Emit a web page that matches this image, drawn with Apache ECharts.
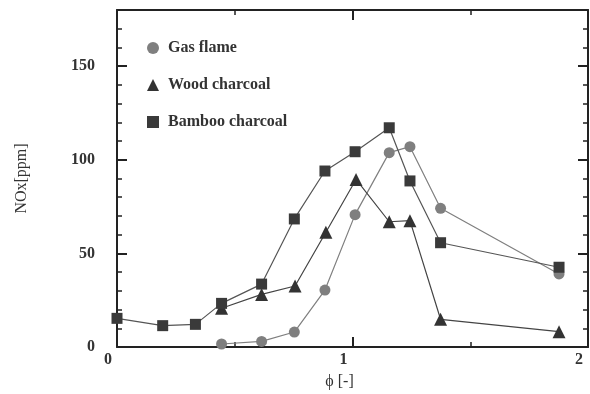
<!DOCTYPE html>
<html>
<head>
<meta charset="utf-8">
<script src="https://cdn.jsdelivr.net/npm/echarts@6/dist/echarts.min.js"></script>
<style>
    html, body { margin: 0; padding: 0; background: #fff; }
    #chart { width: 590px; height: 394px; }
</style>
</head>
<body>
<div id="chart"></div>
<script>
// 数据
let gasPhi = [0.444, 0.614, 0.753, 0.883, 1.011, 1.156, 1.244, 1.374, 1.877];
let gasNox = [1.6, 3, 8, 30.4, 70.7, 103.8, 107, 74.1, 39];
let woodPhi = [0.444, 0.614, 0.756, 0.887, 1.015, 1.156, 1.244, 1.374, 1.877];
let woodNox = [20.7, 28.1, 32.6, 61.3, 89.5, 66.9, 67.5, 14.8, 8.2];
let bambooPhi = [0.0, 0.194, 0.333, 0.444, 0.614, 0.753, 0.883, 1.011, 1.156, 1.244, 1.374, 1.877];
let bambooNox = [15.3, 11.4, 12.1, 23.3, 33.6, 68.4, 94, 104.3, 117.1, 88.7, 55.7, 42.6];
let names = ['Gas flame', 'Wood charcoal', 'Bamboo charcoal'];

function pairs(xs, ys) {
    return xs.map(function(x, i) { return [x, ys[i]]; });
}

window.addEventListener('load', function() {
    let myChart = echarts.init(document.getElementById('chart'));
    let font = 'Liberation Serif';
    let axisCommon = {
        axisLine: { show: true, onZero: false, lineStyle: { color: '#222', width: 2 } },
        splitLine: { show: false },
        minorSplitLine: { show: false },
        axisTick: { show: true, inside: true, length: 10, lineStyle: { color: '#222', width: 2 } }
    };
    let yMinor = { show: true, splitNumber: 5, length: 5, lineStyle: { color: '#222', width: 1.5 } };
    let xMinor = { show: true, splitNumber: 2, length: 5, lineStyle: { color: '#222', width: 1.5 } };

    let option = {
        animation: false,
        backgroundColor: '#fff',
        grid: { left: 117, right: 2, top: 10, bottom: 47, outerBoundsMode: 'none', containLabel: false },
        legend: {
            orient: 'vertical',
            left: 142,
            top: 35,
            itemGap: 21,
            itemWidth: 12,
            itemHeight: 12,
            textStyle: { fontFamily: font, fontSize: 16, fontWeight: 'bold', color: '#333', padding: [0, 0, 0, 4] },
            data: [
                { name: names[0], icon: 'circle', itemStyle: { color: '#7f7f7f' } },
                { name: names[1], icon: 'triangle', itemStyle: { color: '#333' } },
                { name: names[2], icon: 'rect', itemStyle: { color: '#3a3a3a' } }
            ]
        },
        xAxis: [
            Object.assign({
                type: 'value', min: 0, max: 2, interval: 1, position: 'bottom',
                name: 'ϕ [-]', nameLocation: 'middle', nameGap: 27,
                nameTextStyle: { fontFamily: font, fontSize: 16, color: '#333', padding: [0, 26, 0, 0] },
                axisLabel: { margin: 5, fontFamily: font, fontSize: 16, fontWeight: 'bold', color: '#333', padding: [0, 18, 0, 0] },
                minorTick: xMinor
            }, axisCommon),
            Object.assign({
                type: 'value', min: 0, max: 2, interval: 1, position: 'top',
                axisLabel: { show: false },
                minorTick: xMinor
            }, axisCommon)
        ],
        yAxis: [
            Object.assign({
                type: 'value', min: 0, max: 180, interval: 50, position: 'left',
                name: 'NOx[ppm]', nameLocation: 'middle', nameGap: 87, nameRotate: 90,
                nameTextStyle: { fontFamily: font, fontSize: 16, color: '#333' },
                axisLabel: {
                    margin: 22, fontFamily: font, fontSize: 16, fontWeight: 'bold', color: '#333',
                    formatter: function(v) { return v % 50 === 0 ? String(v) : ''; }
                },
                minorTick: yMinor
            }, axisCommon),
            Object.assign({
                type: 'value', min: 0, max: 180, interval: 50, position: 'right',
                axisLabel: { show: false },
                minorTick: yMinor
            }, axisCommon)
        ],
        series: [{
                name: names[0],
                type: 'line',
                symbol: 'circle',
                symbolSize: 11,
                itemStyle: { color: '#7f7f7f' },
                lineStyle: { color: '#7f7f7f', width: 1.2 },
                data: pairs(gasPhi, gasNox)
            },
            {
                name: names[1],
                type: 'line',
                symbol: 'triangle',
                symbolSize: 13,
                itemStyle: { color: '#333' },
                lineStyle: { color: '#444', width: 1.2 },
                data: pairs(woodPhi, woodNox)
            },
            {
                name: names[2],
                type: 'line',
                symbol: 'rect',
                symbolSize: 11,
                itemStyle: { color: '#3a3a3a' },
                lineStyle: { color: '#555', width: 1.2 },
                data: pairs(bambooPhi, bambooNox)
            }
        ]
    };
    myChart.setOption(option);
});
</script>
</body>
</html>
